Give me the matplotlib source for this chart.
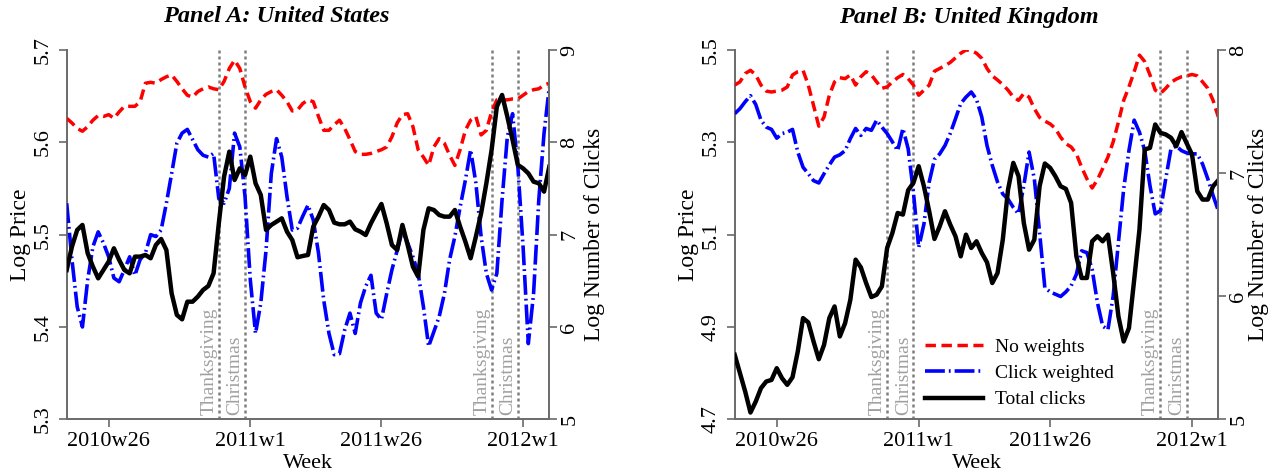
import numpy as np
import matplotlib
matplotlib.use('Agg')
import matplotlib.pyplot as plt
import matplotlib.transforms as mtransforms

plt.rcParams['font.family'] = ['Liberation Serif', 'DejaVu Serif']

# week index: 2010w1 = 0, so 2010w18 .. 2012w6
weeks = np.arange(17, 110)
week_ticks = [25, 52, 77, 104]
week_labels = ['2010w26', '2011w1', '2011w26', '2012w1']
holiday_weeks = [46, 51, 98, 103]
holiday_names = ['Thanksgiving', 'Christmas', 'Thanksgiving', 'Christmas']

# Panel A: United States
us_noweights = [
    5.626, 5.621, 5.615, 5.612, 5.617, 5.624, 5.629, 5.628, 5.630, 5.626,
    5.633, 5.639, 5.639, 5.639, 5.644, 5.664, 5.665, 5.664, 5.668, 5.671,
    5.673, 5.666, 5.658, 5.651, 5.649, 5.655, 5.658, 5.660, 5.658, 5.657,
    5.666, 5.680, 5.689, 5.680, 5.660, 5.644, 5.637, 5.646, 5.652, 5.655,
    5.657, 5.651, 5.644, 5.634, 5.635, 5.642, 5.646, 5.644, 5.628, 5.613,
    5.613, 5.619, 5.624, 5.615, 5.603, 5.590, 5.587, 5.587, 5.588, 5.590,
    5.592, 5.595, 5.606, 5.621, 5.630, 5.631, 5.617, 5.592, 5.584, 5.575,
    5.595, 5.604, 5.599, 5.586, 5.575, 5.592, 5.613, 5.624, 5.628, 5.608,
    5.613, 5.633, 5.646, 5.646, 5.646, 5.647, 5.647, 5.651, 5.655, 5.657,
    5.658, 5.662, 5.664]
us_clickw = [
    5.534, 5.473, 5.422, 5.400, 5.451, 5.487, 5.503, 5.491, 5.476, 5.453,
    5.449, 5.462, 5.476, 5.456, 5.473, 5.480, 5.500, 5.498, 5.505, 5.534,
    5.566, 5.599, 5.610, 5.614, 5.603, 5.592, 5.586, 5.584, 5.588, 5.539,
    5.534, 5.550, 5.610, 5.595, 5.541, 5.451, 5.393, 5.426, 5.483, 5.566,
    5.604, 5.584, 5.541, 5.505, 5.507, 5.520, 5.532, 5.516, 5.480, 5.429,
    5.393, 5.370, 5.371, 5.397, 5.415, 5.393, 5.426, 5.444, 5.456, 5.415,
    5.408, 5.436, 5.462, 5.483, 5.505, 5.491, 5.476, 5.458, 5.422, 5.379,
    5.395, 5.411, 5.436, 5.473, 5.498, 5.530, 5.559, 5.592, 5.556, 5.498,
    5.458, 5.440, 5.458, 5.538, 5.606, 5.631, 5.574, 5.487, 5.382, 5.436,
    5.538, 5.610, 5.660]
us_clicks = [
    6.617, 6.870, 7.051, 7.105, 6.798, 6.653, 6.527, 6.617, 6.708, 6.852,
    6.726, 6.617, 6.581, 6.762, 6.762, 6.780, 6.744, 6.888, 6.953, 6.834,
    6.365, 6.130, 6.083, 6.274, 6.274, 6.329, 6.401, 6.444, 6.581, 7.123,
    7.628, 7.899, 7.592, 7.718, 7.646, 7.845, 7.556, 7.430, 7.051, 7.105,
    7.141, 7.177, 7.032, 6.942, 6.755, 6.769, 6.780, 7.087, 7.195, 7.321,
    7.267, 7.130, 7.112, 7.112, 7.141, 7.058, 7.032, 6.996, 7.123, 7.231,
    7.332, 7.123, 6.888, 6.834, 7.105, 6.888, 6.653, 6.545, 7.051, 7.285,
    7.267, 7.213, 7.195, 7.195, 7.267, 7.087, 6.924, 6.744, 6.978, 7.231,
    7.556, 7.917, 8.386, 8.513, 8.278, 8.025, 7.755, 7.718, 7.664, 7.574,
    7.556, 7.466, 7.736]

# Panel B: United Kingdom
uk_noweights = [
    5.424, 5.431, 5.449, 5.456, 5.446, 5.424, 5.411, 5.409, 5.411, 5.413,
    5.420, 5.446, 5.453, 5.456, 5.424, 5.380, 5.335, 5.355, 5.402, 5.431,
    5.440, 5.438, 5.446, 5.424, 5.442, 5.453, 5.446, 5.431, 5.417, 5.420,
    5.431, 5.440, 5.447, 5.438, 5.424, 5.402, 5.413, 5.424, 5.454, 5.460,
    5.466, 5.473, 5.483, 5.493, 5.500, 5.499, 5.493, 5.482, 5.460, 5.444,
    5.435, 5.425, 5.413, 5.398, 5.391, 5.406, 5.398, 5.373, 5.354, 5.346,
    5.340, 5.330, 5.311, 5.297, 5.290, 5.275, 5.246, 5.221, 5.201, 5.219,
    5.243, 5.268, 5.301, 5.344, 5.391, 5.420, 5.453, 5.489, 5.475, 5.446,
    5.413, 5.406, 5.417, 5.430, 5.437, 5.442, 5.444, 5.447, 5.444, 5.431,
    5.417, 5.391, 5.355]
uk_clickw = [
    5.362, 5.373, 5.388, 5.401, 5.382, 5.348, 5.333, 5.328, 5.309, 5.319,
    5.322, 5.328, 5.279, 5.246, 5.232, 5.217, 5.212, 5.232, 5.251, 5.268,
    5.273, 5.282, 5.308, 5.330, 5.315, 5.330, 5.326, 5.348, 5.333, 5.319,
    5.301, 5.282, 5.330, 5.286, 5.192, 5.072, 5.123, 5.214, 5.263, 5.275,
    5.293, 5.319, 5.351, 5.384, 5.398, 5.409, 5.393, 5.355, 5.293, 5.250,
    5.214, 5.188, 5.177, 5.159, 5.145, 5.206, 5.279, 5.221, 5.105, 4.985,
    4.976, 4.971, 4.966, 4.976, 4.989, 5.014, 5.065, 5.061, 5.025, 4.953,
    4.902, 4.894, 4.967, 5.083, 5.199, 5.282, 5.348, 5.322, 5.282, 5.206,
    5.145, 5.152, 5.221, 5.286, 5.292, 5.282, 5.277, 5.275, 5.275, 5.253,
    5.221, 5.185, 5.152]
uk_clicks = [
    5.524, 5.375, 5.225, 5.055, 5.144, 5.253, 5.307, 5.320, 5.415, 5.334,
    5.280, 5.342, 5.551, 5.822, 5.787, 5.632, 5.488, 5.605, 5.822, 5.917,
    5.673, 5.781, 5.971, 6.297, 6.234, 6.107, 5.993, 6.012, 6.080, 6.392,
    6.514, 6.676, 6.663, 6.861, 6.921, 7.056, 6.893, 6.690, 6.465, 6.568,
    6.690, 6.582, 6.487, 6.324, 6.500, 6.392, 6.446, 6.351, 6.275, 6.107,
    6.188, 6.459, 6.866, 7.083, 6.975, 6.595, 6.378, 6.459, 6.893, 7.078,
    7.043, 6.975, 6.893, 6.872, 6.758, 6.324, 6.148, 6.148, 6.446, 6.487,
    6.446, 6.500, 6.188, 5.836, 5.632, 5.741, 6.134, 6.541, 7.192, 7.205,
    7.395, 7.327, 7.314, 7.287, 7.219, 7.333, 7.241, 7.151, 6.853, 6.785,
    6.785, 6.893, 6.942]

axis_grey = '#6a6a6a'


def draw_panel(ax, noweights, clickw, clicks, yticks, rticks, ylab_x, rlab_x):
    ax.set_xlim(weeks[0], weeks[-1])
    ax.set_ylim(yticks[0], yticks[-1])
    for w, name in zip(holiday_weeks, holiday_names):
        ax.axvline(w, color='#7f7f7f', ls=(0, (1.2, 1.2)), lw=1.8, zorder=1)
        trans = mtransforms.blended_transform_factory(ax.transData, ax.transAxes)
        ax.text(w - 0.25, 0.012, name, transform=trans, rotation=90,
                ha='right', va='bottom', color='#a0a0a0', fontsize=14)
    l1, = ax.plot(weeks, noweights, color='#ff0000', lw=2.5,
                  dashes=(3.0, 1.6), label='No weights', zorder=3)
    l2, = ax.plot(weeks, clickw, color='#0000ff', lw=2.6,
                  dashes=(5.5, 1.1, 0.5, 1.1), label='Click weighted', zorder=3)
    ax2 = ax.twinx()
    ax2.set_ylim(rticks[0], rticks[-1])
    l3, = ax2.plot(weeks, clicks, color='black', lw=3.2, label='Total clicks')

    ax.set_xticks(week_ticks)
    ax.set_xticklabels(week_labels)
    ax.set_yticks(yticks)
    ax.set_yticklabels(['%.1f' % v for v in yticks])
    ax2.set_yticks(rticks)
    ax2.set_yticklabels(['%d' % v for v in rticks])

    for a in (ax, ax2):
        a.spines['top'].set_visible(False)
        for s in a.spines.values():
            s.set_color(axis_grey)
            s.set_linewidth(1.4)
    ax.spines['right'].set_visible(False)
    ax2.spines['left'].set_visible(False)
    ax2.spines['bottom'].set_visible(False)

    ax.tick_params(axis='x', length=6, width=1.2, color=axis_grey,
                   labelsize=16, pad=3)
    ax.tick_params(axis='y', length=6, width=1.2, color=axis_grey,
                   labelsize=16, pad=4, labelrotation=90)
    ax2.tick_params(axis='y', length=6, width=1.2, color=axis_grey,
                    labelsize=16, pad=2, labelrotation=90)
    for t in ax.get_yticklabels() + ax2.get_yticklabels():
        t.set_va('center')

    ax.set_ylabel('Log Price', fontsize=17)
    ax.yaxis.set_label_coords(ylab_x, 0.5)
    ax2.set_ylabel('Log Number of Clicks', fontsize=17)
    ax2.yaxis.set_label_coords(rlab_x, 0.5)
    ax.set_xlabel('Week', fontsize=16)
    ax.xaxis.set_label_coords(0.5, -0.095)
    return ax2, [l1, l2, l3]


fig = plt.figure(figsize=(12.76, 4.75), dpi=100)
axA = fig.add_axes([66.7 / 1276, 1 - 419.3 / 475, 482.6 / 1276, 369.3 / 475])
axB = fig.add_axes([734.7 / 1276, 1 - 419.3 / 475, 483.6 / 1276, 369.3 / 475])

draw_panel(axA, us_noweights, us_clickw, us_clicks,
           [5.3, 5.4, 5.5, 5.6, 5.7], [5, 6, 7, 8, 9], -0.073, 1.072)
axB2, handles = draw_panel(axB, uk_noweights, uk_clickw, uk_clicks,
                           [4.7, 4.9, 5.1, 5.3, 5.5], [5, 6, 7, 8], -0.073, 1.062)

axB2.legend(handles=handles, loc='upper left', bbox_to_anchor=(0.3935, 0.22),
            frameon=False, fontsize=14, handlelength=3.0, handletextpad=0.6,
            labelspacing=0.45, borderpad=0, borderaxespad=0)

fig.text(276 / 1276, 1 - 17 / 475, 'Panel A: United States', ha='center',
         va='center', fontsize=17.5, fontweight='bold', style='italic')
fig.text(969 / 1276, 1 - 17 / 475, 'Panel B: United Kingdom', ha='center',
         va='center', fontsize=17.5, fontweight='bold', style='italic')

fig.savefig('out.png', dpi=100)
